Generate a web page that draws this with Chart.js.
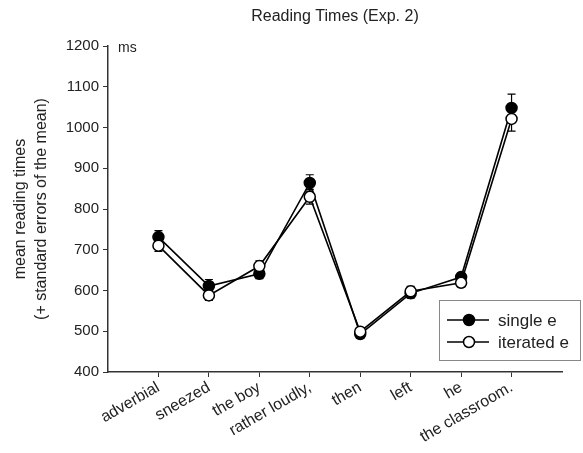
<!DOCTYPE html>
<html>
<head>
<meta charset="utf-8">
<script src="https://cdn.jsdelivr.net/npm/chart.js@4"></script>
<style>
  html, body { margin: 0; padding: 0; background: #fff; }
  #wrap { width: 583px; height: 453px; }
</style>
</head>
<body>
<div id="wrap"><canvas id="myChart" width="583" height="453"></canvas></div>
<script>
const categories = ['adverbial', 'sneezed', 'the boy', 'rather loudly,', 'then', 'left', 'he', 'the classroom.'];
const singleE = [731, 611, 641, 864, 493, 593, 633, 1048];
const iteratedE = [710, 588, 660, 830, 499, 598, 619, 1021];
const singleErr = [16, 16, 12, 20, 10, 12, 10, 34];
const iteratedErr = [14, 12, 13, 18, 10, 12, 10, 30];
const yTicks = [400, 500, 600, 700, 800, 900, 1000, 1100, 1200];

const FONT = "'Liberation Sans', Arial, sans-serif";
const INK = '#222';

function toPoints(arr) {
    return arr.map((v, i) => ({ x: i + 1, y: v }));
}

// error bars, legend and the loose texts
const extras = {
    id: 'extras',
    beforeDatasetsDraw(chart) {
        const ctx = chart.ctx;
        const x = chart.scales.x;
        const y = chart.scales.y;
        ctx.save();
        ctx.strokeStyle = '#000';
        ctx.lineWidth = 1.2;
        [[singleE, singleErr], [iteratedE, iteratedErr]].forEach(([vals, errs]) => {
            vals.forEach((v, i) => {
                const px = x.getPixelForValue(i + 1);
                const top = y.getPixelForValue(v + errs[i]);
                const bot = y.getPixelForValue(v - errs[i]);
                ctx.beginPath();
                ctx.moveTo(px, top); ctx.lineTo(px, bot);
                ctx.moveTo(px - 4, top); ctx.lineTo(px + 4, top);
                ctx.moveTo(px - 4, bot); ctx.lineTo(px + 4, bot);
                ctx.stroke();
            });
        });
        ctx.restore();
    },
    afterDraw(chart) {
        const ctx = chart.ctx;
        const area = chart.chartArea;
        ctx.save();
        ctx.fillStyle = INK;

        // title
        ctx.font = '16px ' + FONT;
        ctx.textAlign = 'center';
        ctx.textBaseline = 'middle';
        ctx.fillText('Reading Times (Exp. 2)', (area.left + area.right) / 2, 17);

        // unit
        ctx.font = '14px ' + FONT;
        ctx.textAlign = 'left';
        ctx.fillText('ms', 118, 48);

        // y title, two lines
        ctx.save();
        ctx.translate(21, (area.top + area.bottom) / 2);
        ctx.rotate(-Math.PI / 2);
        ctx.font = '16px ' + FONT;
        ctx.textAlign = 'center';
        ctx.fillText('mean reading times', 0, 0);
        ctx.fillText('(+ standard errors of the mean)', 0, 21);
        ctx.restore();

        // legend
        ctx.strokeStyle = '#888';
        ctx.lineWidth = 1;
        ctx.strokeRect(439.5, 300.5, 141, 60);
        const rows = [['single e', '#000', 320], ['iterated e', '#fff', 342]];
        rows.forEach(([label, fill, ry]) => {
            ctx.strokeStyle = '#000';
            ctx.lineWidth = 1.5;
            ctx.beginPath();
            ctx.moveTo(447, ry); ctx.lineTo(489, ry);
            ctx.stroke();
            ctx.beginPath();
            ctx.arc(469, ry, 5.5, 0, Math.PI * 2);
            ctx.fillStyle = fill;
            ctx.fill();
            ctx.stroke();
            ctx.fillStyle = INK;
            ctx.font = '17px ' + FONT;
            ctx.textAlign = 'left';
            ctx.fillText(label, 498, ry + 1);
        });
        ctx.restore();
    }
};

const chart = document.querySelector('#myChart');

const myChart = new Chart(chart, {
    type: 'line',
    data: {
        datasets: [{
            label: 'single e',
            data: toPoints(singleE),
            borderColor: '#000',
            borderWidth: 1.6,
            pointBackgroundColor: '#000',
            pointBorderColor: '#000',
            pointBorderWidth: 1.5,
            pointRadius: 5.5,
            tension: 0,
            order: 2
        }, {
            label: 'iterated e',
            data: toPoints(iteratedE),
            borderColor: '#000',
            borderWidth: 1.6,
            pointBackgroundColor: '#fff',
            pointBorderColor: '#000',
            pointBorderWidth: 1.5,
            pointRadius: 5.5,
            tension: 0,
            order: 1
        }]
    },
    options: {
        responsive: false,
        animation: false,
        layout: {
            padding: { top: 46, right: 21, bottom: 0, left: 0 }
        },
        plugins: {
            legend: { display: false },
            title: { display: false },
            tooltip: { enabled: false }
        },
        scales: {
            x: {
                type: 'linear',
                min: 0,
                max: 9,
                afterBuildTicks: (scale) => {
                    scale.ticks = categories.map((c, i) => ({ value: i + 1 }));
                },
                afterFit: (scale) => { scale.height = 81; },
                ticks: {
                    autoSkip: false,
                    minRotation: 30,
                    maxRotation: 30,
                    padding: 1,
                    color: INK,
                    font: { family: FONT, size: 16 },
                    callback: (v) => categories[v - 1] || ''
                },
                grid: {
                    drawOnChartArea: false,
                    drawTicks: true,
                    tickLength: 5,
                    color: '#333'
                },
                border: { display: true, color: '#333', width: 1.5 }
            },
            y: {
                min: 400,
                max: 1200,
                afterBuildTicks: (scale) => {
                    scale.ticks = yTicks.map(v => ({ value: v }));
                },
                afterFit: (scale) => { scale.width = 108; },
                ticks: {
                    padding: 4,
                    color: INK,
                    font: { family: FONT, size: 15 },
                    callback: (v) => String(v)
                },
                grid: {
                    drawOnChartArea: false,
                    drawTicks: true,
                    tickLength: 5,
                    color: '#333'
                },
                border: { display: true, color: '#333', width: 1.5 }
            }
        }
    },
    plugins: [extras]
});
</script>
</body>
</html>
